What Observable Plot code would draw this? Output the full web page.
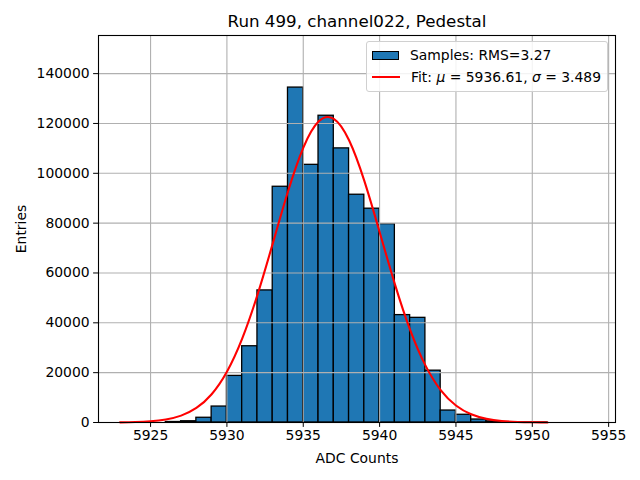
<!DOCTYPE html>
<html>
<head>
<meta charset="utf-8">
<script src="https://cdn.jsdelivr.net/npm/d3@7"></script>
<script src="https://cdn.jsdelivr.net/npm/@observablehq/plot@0.6"></script>
<style>
  html, body { margin: 0; padding: 0; background: #fff; }
  #wrap { position: relative; width: 640px; height: 480px; font-family: "DejaVu Sans", sans-serif; }
  #legend {
    position: absolute; left: 366px; top: 41px; width: 240px; height: 49px;
    border: 1px solid #d0d0d0; border-radius: 3px; background: rgba(255,255,255,0.85);
    font-size: 13.9px; color: #000;
  }
  .row { position: absolute; left: 5px; height: 20px; display: flex; align-items: center; white-space: nowrap; }
  .patch { width: 27px; height: 9px; background: #1f77b4; border: 1.3px solid #000; box-sizing: border-box; margin-right: 11px; }
  .lsym { width: 28px; height: 2px; background: red; margin-right: 11px; }
</style>
</head>
<body>
<div id="wrap"></div>
<script>
// Histogram bins (left edges, width 1 ADC count) and entries
const binStart = [5926,5927,5928,5929,5930,5931,5932,5933,5934,5935,5936,5937,5938,5939,5940,5941,5942,5943,5944,5945,5946,5947,5948,5949,5950];
const entries  = [200,500,1900,6400,18700,30600,53000,94600,134400,103400,123100,110000,91400,85800,79600,43100,42000,20800,4800,3100,1200,450,150,50,20];
// Fit curve points
const fitX = [5923,5924,5925,5926,5927,5928,5929,5930,5931,5932,5933,5934,5935,5936,5937,5938,5939,5940,5941,5942,5943,5944,5945,5946,5947,5948,5949,5950,5951];
const fitY = [61,179,484,1203,2762,5838,11360,20370,33660,51210,71780,92680,110220,120740,121840,113250,96960,76470,55550,37170,22920,13010,6807,3279,1455,595,224,78,25];
const xTicks = [5925,5930,5935,5940,5945,5950,5955];
const yTicks = [0,20000,40000,60000,80000,100000,120000,140000];
const titleText = "Run 499, channel022, Pedestal";
const legendSamples = "Samples: RMS=3.27";

const bins = binStart.map((b, i) => ({x1: b, x2: b + 1, y: entries[i]}));
const fit = fitX.map((x, i) => ({x, y: fitY[i]}));

const chart = Plot.plot({
  width: 640, height: 480,
  marginLeft: 98, marginRight: 25, marginTop: 35, marginBottom: 58,
  style: {fontFamily: "DejaVu Sans", fontSize: "13.9px", color: "#000", background: "#fff"},
  x: {domain: [5921.59, 5955.45]},
  y: {domain: [0, 155300]},
  marks: [
    Plot.rectY(bins, {x1: "x1", x2: "x2", y: "y", fill: "#1f77b4", stroke: "#000", strokeWidth: 1.3, insetLeft: 0, insetRight: 0}),
    Plot.gridX(xTicks, {stroke: "#b0b0b0", strokeOpacity: 1, strokeWidth: 1.1}),
    Plot.gridY(yTicks, {stroke: "#b0b0b0", strokeOpacity: 1, strokeWidth: 1.1}),
    Plot.line(fit, {x: "x", y: "y", stroke: "red", strokeWidth: 2.1, curve: "natural"}),
    Plot.frame({stroke: "#000", strokeWidth: 1.1}),
    Plot.axisX({ticks: xTicks, tickSize: 4.9, tickPadding: 3, tickFormat: d => String(d), label: "ADC Counts", labelAnchor: "center", labelArrow: "none", labelOffset: 40, fontSize: 13.9}),
    Plot.axisY({ticks: yTicks, tickSize: 4.9, tickPadding: 4, tickFormat: d => String(d), label: "Entries", labelAnchor: "center", labelArrow: "none", labelOffset: 82, fontSize: 13.9}),
    Plot.text([titleText], {frameAnchor: "top", dy: -14, fontSize: 16.7, fill: "#000", lineAnchor: "middle"})
  ]
});
const wrap = document.getElementById("wrap");
wrap.appendChild(chart);

const legend = document.createElement("div");
legend.id = "legend";
legend.innerHTML =
  '<div class="row" style="top:3px"><div class="patch"></div><span>' + legendSamples + '</span></div>' +
  '<div class="row" style="top:25px"><div class="lsym"></div><span>Fit: <i>μ</i> = 5936.61, <i>σ</i> = 3.489</span></div>';
wrap.appendChild(legend);
</script>
</body>
</html>
